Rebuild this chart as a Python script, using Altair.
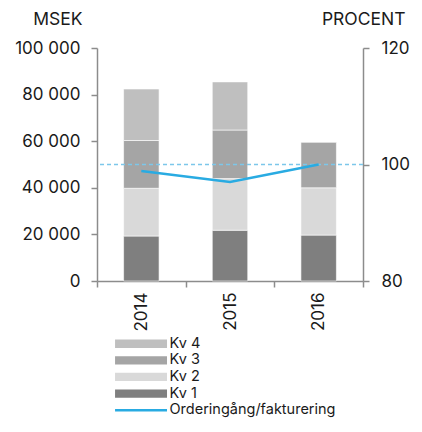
import altair as alt
import pandas as pd

years = ["2014", "2015", "2016"]
quarters = ["Kv 1", "Kv 2", "Kv 3", "Kv 4"]
kv1 = [19300, 21800, 19700]
kv2 = [20500, 22150, 20300]
kv3 = [20500, 20850, 19500]
kv4 = [22100, 20650, None]
pct = [98.9, 97.0, 100.0]
ref_pct = [100]
line_name = "Orderingång/fakturering"
legend_order = ["Kv 4", "Kv 3", "Kv 2", "Kv 1"]
bar_colors = ["#bfbfbf", "#a5a5a5", "#d9d9d9", "#7f7f7f"]

rows = []
for i, yr in enumerate(years):
    for qi, (q, vals) in enumerate(zip(quarters, [kv1, kv2, kv3, kv4])):
        if vals[i] is not None:
            rows.append({"year": yr, "q": q, "qi": qi, "value": vals[i]})
bars_df = pd.DataFrame(rows)
line_df = pd.DataFrame({"year": years, "pct": pct, "series": [line_name] * len(years)})
ref_df = pd.DataFrame({"pct": ref_pct})

FONT = "Inter"
AX = "#8c8c8c"

xenc = alt.X(
    "year:N",
    scale=alt.Scale(paddingInner=0, paddingOuter=0),
    axis=alt.Axis(
        title=None, labelAngle=-90, tickBand="extent", tickSize=6,
        labelPadding=5, labelFontSize=17,
    ),
)

pct_scale = alt.Scale(domain=[80, 120], zero=False)

bars = alt.Chart(bars_df).mark_bar(
    stroke="white", strokeWidth=0.6, width=alt.RelativeBandSize(0.4)
).encode(
    x=xenc,
    y=alt.Y(
        "value:Q",
        stack="zero",
        scale=alt.Scale(domain=[0, 100000]),
        axis=alt.Axis(
            values=[0, 20000, 40000, 60000, 80000, 100000],
            labelExpr="replace(format(datum.value, ','), ',', ' ')",
            title="MSEK", titleAngle=0, titleAlign="right", titleBaseline="alphabetic",
            titleX=-15, titleY=-24, titleFontSize=17.5, titleFontWeight="normal",
            tickSize=6, labelPadding=11, labelFontSize=17, grid=False,
        ),
    ),
    color=alt.Color(
        "q:N",
        scale=alt.Scale(domain=legend_order, range=bar_colors),
        legend=alt.Legend(
            title=None, orient="none", legendX=16, legendY=288.5, direction="vertical",
            symbolType="M-1,-0.8H9V0.8H-1Z", symbolSize=108, symbolStrokeWidth=0,
            labelOffset=42, labelFontSize=14.5, rowPadding=1.6, padding=0,
            symbolOpacity=1, labelLimit=0,
        ),
    ),
    order=alt.Order("qi:Q", sort="ascending"),
)

line = alt.Chart(line_df).mark_line(strokeWidth=2.5).encode(
    x=xenc,
    y=alt.Y(
        "pct:Q",
        scale=pct_scale,
        axis=alt.Axis(
            orient="right", values=[80, 100, 120],
            title="PROCENT", titleAngle=0, titleAlign="right", titleBaseline="alphabetic",
            titleX=42, titleY=-24, titleFontSize=17.5, titleFontWeight="normal",
            tickSize=6, labelPadding=12, labelFontSize=17, grid=False,
        ),
    ),
    stroke=alt.Stroke(
        "series:N",
        scale=alt.Scale(range=["#29abe2"]),
        legend=alt.Legend(
            title=None, orient="none", legendX=16, legendY=355,
            symbolType="M-1,0H9", symbolSize=108, symbolStrokeWidth=2.5,
            labelOffset=42, labelFontSize=14.5, padding=0, labelLimit=0,
        ),
    ),
)

rule = alt.Chart(ref_df).mark_rule(strokeDash=[4, 3], color="#7cc7ea", strokeWidth=1.5).encode(
    y=alt.Y("pct:Q", scale=pct_scale)
)

chart = (
    alt.layer(bars, alt.layer(rule, line))
    .resolve_scale(y="independent")
    .properties(
        width=266, height=233,
        autosize=alt.AutoSizeParams(type="none"),
        padding={"left": 89, "top": 40, "right": 51, "bottom": 138},
    )
    .configure(font=FONT)
    .configure_view(stroke=None)
    .configure_axis(domainColor=AX, tickColor=AX, domainWidth=1.5, tickWidth=1.5,
                    labelColor="#1a1a1a", titleColor="#1a1a1a", labelFont=FONT, titleFont=FONT)
    .configure_legend(labelColor="#1a1a1a", labelFont=FONT)
)

chart.save("out.html", embed_options={"renderer": "svg", "actions": False})
